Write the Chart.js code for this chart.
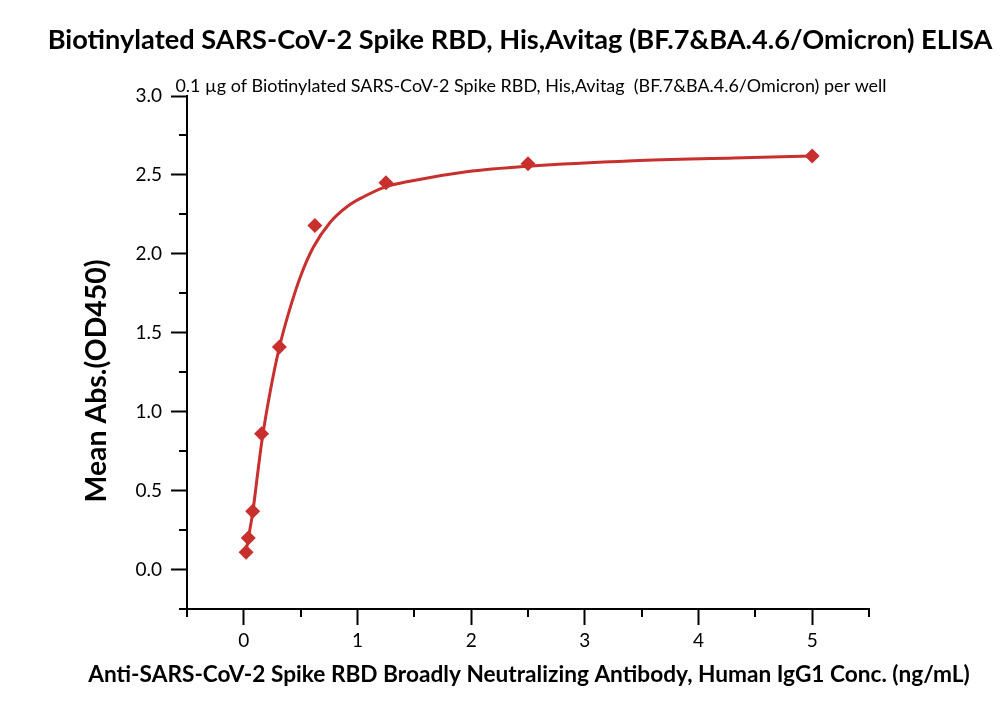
<!DOCTYPE html>
<html lang="en">
<head>
<meta charset="UTF-8">
<title>Biotinylated SARS-CoV-2 Spike RBD ELISA</title>
<script src="https://cdn.jsdelivr.net/npm/chart.js"></script>
<style>
  html, body { margin: 0; padding: 0; background: #fff; }
  #wrap { width: 1000px; height: 714px; }
</style>
</head>
<body>
<div id="wrap"><canvas id="elisa" width="1000" height="714"></canvas></div>
<script>
// measured points (ng/mL vs OD450)
const concX = [0.0195, 0.039, 0.078, 0.156, 0.3125, 0.625, 1.25, 2.5, 5];
const meanAbs = [0.11, 0.20, 0.37, 0.86, 1.41, 2.18, 2.45, 2.57, 2.62];

// fitted curve
const fitX = [0.02, 0.04, 0.08, 0.12, 0.16, 0.23, 0.31, 0.40, 0.50, 0.61, 0.76, 0.91, 1.05, 1.23, 1.46, 1.96, 2.5, 3.43, 4.31, 5.0];
const fitY = [0.12, 0.20, 0.37, 0.60, 0.82, 1.12, 1.40, 1.64, 1.86, 2.04, 2.20, 2.30, 2.36, 2.42, 2.46, 2.52, 2.555, 2.59, 2.607, 2.62];

const xMajorTicks = [0, 1, 2, 3, 4, 5];
const yMajorTicks = [0, 0.5, 1, 1.5, 2, 2.5, 3];

const titleText = 'Biotinylated SARS-CoV-2 Spike RBD, His,Avitag (BF.7&BA.4.6/Omicron) ELISA';
const subText = '0.1 \u00b5g of Biotinylated SARS-CoV-2 Spike RBD, His,Avitag  (BF.7&BA.4.6/Omicron) per well';
const xTitle = 'Anti-SARS-CoV-2 Spike RBD Broadly Neutralizing Antibody, Human IgG1 Conc. (ng/mL)';
const yTitle = 'Mean Abs.(OD450)';

const red = '#c8302e';
const FONT = 'Lato, "Open Sans", sans-serif';

function isMajor(v, list) {
  return list.some(m => Math.abs(m - v) < 1e-9);
}

// draw text scaled so it spans a given width
function fitText(ctx, text, weight, width, cx, cy, angle) {
  ctx.save();
  ctx.font = weight + ' 20px ' + FONT;
  const size = 20 * width / ctx.measureText(text).width;
  ctx.font = weight + ' ' + size.toFixed(2) + 'px ' + FONT;
  ctx.fillStyle = '#000';
  ctx.textAlign = 'center';
  ctx.textBaseline = 'middle';
  ctx.translate(cx, cy);
  if (angle) ctx.rotate(angle);
  ctx.fillText(text, 0, 0);
  ctx.restore();
}

const textPlugin = {
  id: 'texts',
  afterDraw(chart) {
    const ctx = chart.ctx;
    fitText(ctx, titleText, 'bold', 945, 520, 40);
    fitText(ctx, subText, 'normal', 712, 531, 86);
    fitText(ctx, xTitle, 'bold', 882, 529, 675);
    fitText(ctx, yTitle, 'bold', 243, 97, 381, -Math.PI / 2);
  }
};

// short minor ticks, placed through the scales
const minorTicks = {
  id: 'minorTicks',
  afterDraw(chart) {
    const ctx = chart.ctx;
    const xs = chart.scales.x, ys = chart.scales.y;
    ctx.save();
    ctx.strokeStyle = '#000';
    ctx.lineWidth = 2;
    ctx.beginPath();
    xs.ticks.forEach(t => {
      if (isMajor(t.value, xMajorTicks)) return;
      const px = Math.round(xs.getPixelForValue(t.value));
      ctx.moveTo(px, xs.top);
      ctx.lineTo(px, xs.top + 8);
    });
    ys.ticks.forEach(t => {
      if (isMajor(t.value, yMajorTicks)) return;
      const py = Math.round(ys.getPixelForValue(t.value));
      ctx.moveTo(ys.right, py);
      ctx.lineTo(ys.right - 8, py);
    });
    ctx.stroke();
    ctx.restore();
  }
};

new Chart(document.getElementById('elisa'), {
  type: 'scatter',
  data: {
    datasets: [
      {
        label: 'Fit',
        data: fitX.map((x, i) => ({ x: x, y: fitY[i] })),
        showLine: true,
        borderColor: red,
        borderWidth: 3,
        pointRadius: 0,
        cubicInterpolationMode: 'monotone',
        order: 2
      },
      {
        label: 'Mean Abs.',
        data: concX.map((x, i) => ({ x: x, y: meanAbs[i] })),
        pointStyle: 'rectRot',
        pointRadius: 7.5,
        backgroundColor: red,
        borderColor: red,
        borderWidth: 0,
        order: 1
      }
    ]
  },
  options: {
    responsive: false,
    animation: false,
    layout: { padding: { left: 0, top: 96, right: 131, bottom: 0 } },
    plugins: {
      legend: { display: false },
      tooltip: { enabled: false }
    },
    scales: {
      x: {
        type: 'linear',
        min: -0.5,
        max: 5.5,
        afterFit: s => { s.height = 105; },
        border: { display: true, color: '#000', width: 2 },
        grid: {
          drawOnChartArea: false,
          tickLength: 16,
          tickWidth: 2,
          tickColor: c => isMajor(c.tick.value, xMajorTicks) ? '#000' : 'rgba(0,0,0,0)'
        },
        ticks: {
          stepSize: 0.5,
          autoSkip: false,
          maxRotation: 0,
          padding: 4,
          color: '#000',
          font: { family: FONT, size: 19 },
          callback: v => isMajor(v, xMajorTicks) ? String(v) : ''
        }
      },
      y: {
        type: 'linear',
        min: -0.25,
        max: 3.0,
        afterFit: s => { s.width = 187; },
        border: { display: true, color: '#000', width: 2 },
        grid: {
          drawOnChartArea: false,
          tickLength: 16,
          tickWidth: 2,
          tickColor: c => isMajor(c.tick.value, yMajorTicks) ? '#000' : 'rgba(0,0,0,0)'
        },
        ticks: {
          stepSize: 0.25,
          autoSkip: false,
          padding: 9,
          color: '#000',
          font: { family: FONT, size: 19 },
          callback: v => isMajor(v, yMajorTicks) ? v.toFixed(1) : ''
        }
      }
    }
  },
  plugins: [minorTicks, textPlugin]
});
</script>
</body>
</html>
